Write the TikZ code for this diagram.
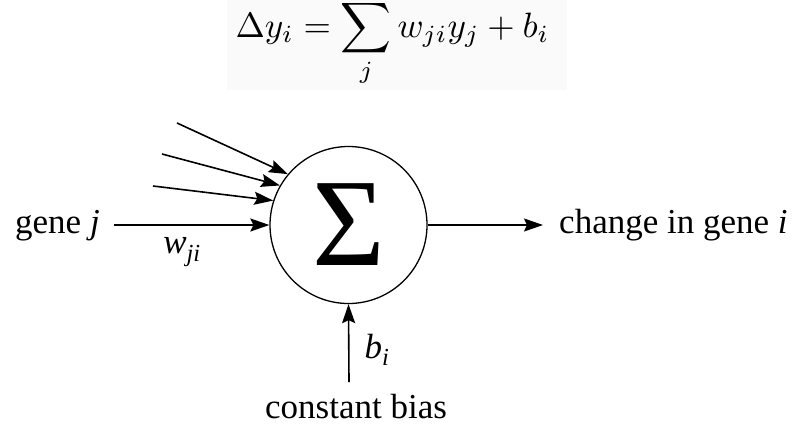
\documentclass[tikz,border=0pt]{standalone}
\usepackage{fontspec}
\usepackage{graphicx}
\setmainfont{Liberation Serif}
\usetikzlibrary{arrows.meta}
\tikzset{
  lbl/.style={font=\fontsize{35}{40}\selectfont, inner sep=0pt},
  arr/.style={line width=1.6pt, -{Stealth[length=19pt,width=13pt,inset=3pt]}},
}
\begin{document}
\begin{tikzpicture}[x=1pt,y=-1pt]
\useasboundingbox (0,0) rectangle (799,426);
\fill[black!2] (227,0) rectangle (567,90);
\node[inner sep=0pt, anchor=base] (eq) at (392.5,37)
  {\scalebox{3.52}{$\displaystyle \Delta y_i = \sum_j w_{ji} y_j + b_i$}};
\node[circle, draw, line width=1.3pt, minimum size=157pt, inner sep=0pt] (sum) at (348.5,225)
  {\raisebox{-0.33em}{\fontsize{125}{130}\selectfont Σ}};
\coordinate (s1) at (177,123);
\coordinate (s2) at (162,154);
\coordinate (s3) at (153,186);
\coordinate (s4) at (114,225);
\coordinate (out) at (543,225);
\coordinate (bot) at (349,382);
\draw[arr] (s1) -- (sum.140);
\draw[arr] (s2) -- (sum.150);
\draw[arr] (s3) -- (sum.162);
\draw[arr] (s4) -- (sum.west);
\draw[arr] (sum.east) -- (out);
\draw[arr] (bot) -- (sum.south);
\node[lbl, anchor=base west] (gj) at (15,233) {gene \textit{j}};
\node[lbl, anchor=base west] (ci) at (559,233) {change in gene \textit{i}};
\node[lbl] (w) at (182,252) {\textit{w\textsubscript{ji}}};
\node[lbl] (b) at (377,350) {\textit{b\textsubscript{i}}};
\node[lbl, anchor=base] (cb) at (356,418) {constant bias};
\end{tikzpicture}
\end{document}
